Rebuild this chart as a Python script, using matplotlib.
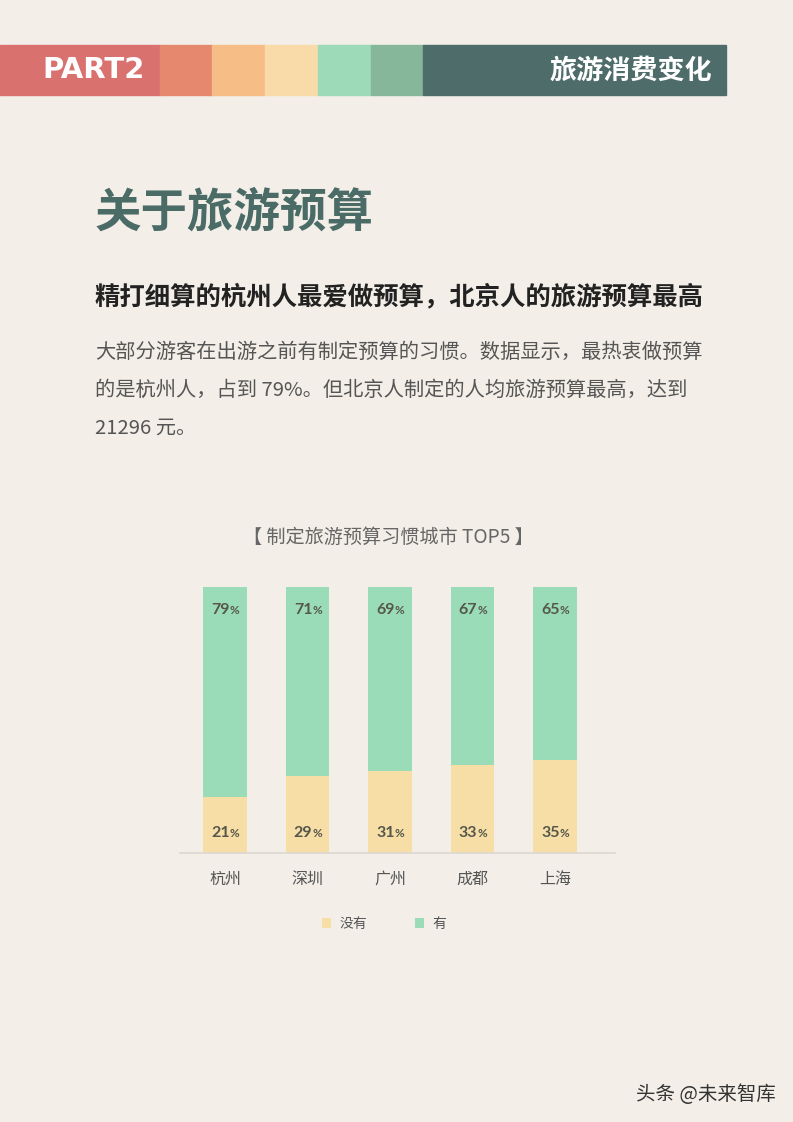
import matplotlib
matplotlib.use('Agg')
import matplotlib.pyplot as plt
from matplotlib.patches import Rectangle

plt.rcParams['font.family'] = ['Noto Sans CJK SC', 'DejaVu Sans']

# chart data
cities = ['杭州', '深圳', '广州', '成都', '上海']
no_budget = [21, 29, 31, 33, 35]    # 没有
has_budget = [79, 71, 69, 67, 65]   # 有
series_names = ['没有', '有']

bg = '#f3efe8'
c_no = '#f7dea7'
c_yes = '#9bdcb8'
lbl_col = '#55574a'

fig = plt.figure(figsize=(7.93, 11.22), dpi=100)
fig.patch.set_facecolor(bg)

W, H = 793.0, 1122.0

def fx(px):
    return px / W

def fy(py):
    return 1 - py / H

# header strip
strip = [(0, 160, '#d9716f'), (160, 212, '#e6886d'), (212, 265, '#f7bd86'),
         (265, 318, '#f8dba9'), (318, 371, '#9cdab8'), (371, 423, '#86b79a'),
         (423, 726, '#4e6c6a')]
for x0, x1, col in strip:
    fig.patches.append(Rectangle((fx(x0), fy(95)), fx(x1 - x0), 50 / H,
                                 transform=fig.transFigure, color=col, zorder=0))
fig.text(fx(42), fy(70), 'PART2', color='white', fontsize=21, fontweight='bold',
         family=['DejaVu Sans'], va='center', ha='left')
fig.text(fx(712), fy(71), '旅游消费变化', color='white', fontsize=19.5, fontweight='heavy',
         va='center', ha='right')

# headings and body
fig.text(fx(95), fy(213), '关于旅游预算', color='#4a6b66', fontsize=33.5, fontweight='heavy',
         va='center', ha='left')
fig.text(fx(95), fy(297), '精打细算的杭州人最爱做预算，北京人的旅游预算最高', color='#222222',
         fontsize=18.3, fontweight='bold', va='center', ha='left')
body = ['大部分游客在出游之前有制定预算的习惯。数据显示，最热衷做预算',
        '的是杭州人，占到 79%。但北京人制定的人均旅游预算最高，达到',
        '21296 元。']
for i, line in enumerate(body):
    fig.text(fx(95), fy(352 + 38 * i), line, color='#555555', fontsize=14.6,
             va='center', ha='left')

fig.text(fx(388), fy(537), '【 制定旅游预算习惯城市 TOP5 】', color='#666666', fontsize=13.8,
         va='center', ha='center')

# chart
ax = fig.add_axes([fx(180), fy(853), fx(435), 266 / H])
ax.set_facecolor(bg)
x = list(range(len(cities)))
w = 0.53
ax.bar(x, no_budget, width=w, color=c_no, label=series_names[0])
ax.bar(x, has_budget, width=w, bottom=no_budget, color=c_yes, label=series_names[1])
ax.set_xlim(-0.545, 4.727)
ax.set_ylim(0, 100)
for s in ['top', 'right', 'left']:
    ax.spines[s].set_visible(False)
ax.spines['bottom'].set_color('#dcd8d0')
ax.spines['bottom'].set_linewidth(1.2)
ax.set_yticks([])
ax.set_xticks(x)
ax.set_xticklabels(cities, fontsize=11.5, color='#555555')
ax.tick_params(axis='x', length=0, pad=13)

for i in x:
    for val, ypos in [(no_budget[i], 7.5), (has_budget[i], 91.5)]:
        ax.annotate(str(val), (i, ypos), xytext=(3.5, 0), textcoords='offset points',
                    ha='right', va='center', fontsize=11.5, fontweight='bold',
                    color=lbl_col, family=['Lato', 'DejaVu Sans'])
        ax.annotate('%', (i, ypos), xytext=(3.5, -0.5), textcoords='offset points',
                    ha='left', va='center', fontsize=8.5, fontweight='bold',
                    color=lbl_col, family=['Lato', 'DejaVu Sans'])

leg = fig.legend(loc='center', bbox_to_anchor=(fx(384), fy(924)), ncol=2, frameon=False,
                 fontsize=10, handlelength=0.7, handleheight=0.7, handletextpad=0.6,
                 columnspacing=3.4)
for t in leg.get_texts():
    t.set_color('#555555')

fig.text(fx(776), fy(1095), '头条 @未来智库', color='#333333', fontsize=14,
         va='center', ha='right')

fig.savefig('out.png', dpi=100, facecolor=bg)
